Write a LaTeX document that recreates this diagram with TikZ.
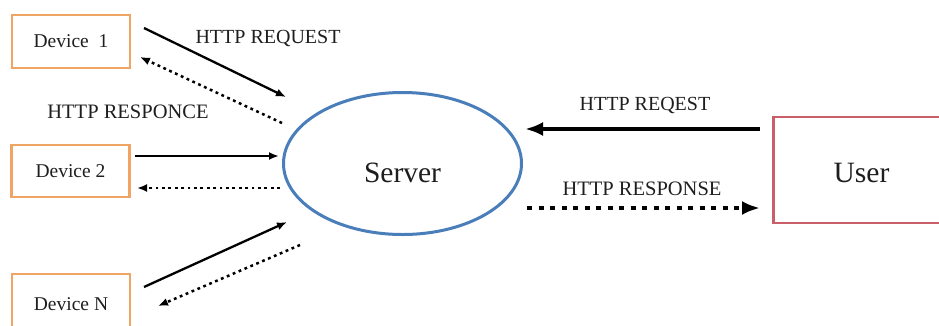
\documentclass[tikz,border=0pt]{standalone}
\usepackage{fontspec}
\setmainfont{Liberation Serif}
\usetikzlibrary{arrows.meta,calc,shapes.geometric}
\definecolor{devorange}{RGB}{240,165,100}
\definecolor{srvblue}{RGB}{74,126,187}
\definecolor{usrred}{RGB}{200,95,105}
\definecolor{txt}{RGB}{30,30,30}
\begin{document}
\begin{tikzpicture}[x=1pt,y=-1pt,
  devbox/.style={draw=devorange,line width=2.5pt,rectangle,inner sep=0pt,
    minimum width=118pt,minimum height=53pt,text=txt,
    font=\fontsize{19.5}{22}\selectfont},
  lbl/.style={text=txt,inner sep=0pt,font=\fontsize{20}{22}\selectfont},
  req/.style={line width=2.3pt,-{Latex[length=10pt,width=8pt]}},
  res/.style={line width=2.5pt,dash pattern=on 2.8pt off 3.6pt,-{Latex[length=10pt,width=8pt]}},
  ureq/.style={line width=4.5pt,-{Latex[length=18pt,width=14pt]}},
  ures/.style={line width=4.5pt,dash pattern=on 5pt off 6.5pt,-{Latex[length=18pt,width=14pt]}}
]
\useasboundingbox (0,0) rectangle (939,325);
\fill[white] (0,0) rectangle (939,325);
% nodes
\node[devbox] (d1) at (71,41.5) {Device\ \ 1};
\node[devbox,minimum height=52pt] (d2) at (70.5,171) {Device 2};
\node[devbox,minimum height=56pt,text height=16pt,text depth=0pt] (dn) at (71,302) {Device N};
\node[draw=srvblue,line width=3pt,ellipse,inner sep=0pt,minimum width=238pt,
  minimum height=142pt,text=txt,text height=37pt,text depth=0pt,
  font=\fontsize{29.5}{32}\selectfont] (srv) at (402.5,163.5) {Server};
\node[draw=usrred,line width=2.5pt,rectangle,inner sep=0pt,minimum width=176pt,
  minimum height=106pt,text=txt,text height=24pt,text depth=0pt,
  font=\fontsize{29.5}{32}\selectfont] (usr) at (861.5,170) {User};
% labels
\node[lbl] (l1) at (268,38) {HTTP REQUEST};
\node[lbl,font=\fontsize{20.5}{22}\selectfont] (l2) at (128,112) {HTTP RESPONCE};
\node[lbl] (l3) at (645,105) {HTTP REQEST};
\node[lbl,font=\fontsize{20.5}{22}\selectfont] (l4) at (642,189) {HTTP RESPONSE};
% connectors
\draw[req] ($(d1.center)+(73,-13.5)$) -- ($(srv.center)+(-116.5,-66.5)$);
\draw[res] ($(srv.center)+(-120.5,-40.5)$) -- ($(d1.center)+(69,15.5)$);
\draw[req] ($(d2.center)+(64.5,-15)$) -- ($(srv.center)+(-123.5,-7.5)$);
\draw[res] ($(srv.center)+(-122.5,24.5)$) -- ($(d2.center)+(66.5,17)$);
\draw[req] ($(dn.center)+(73,-15)$) -- ($(srv.center)+(-115.5,58.5)$);
\draw[res] ($(srv.center)+(-102.5,81.5)$) -- ($(dn.center)+(87,4)$);
\draw[ureq] ($(usr.center)+(-101.5,-41)$) -- ($(srv.center)+(122.5,-34.5)$);
\draw[ures] ($(srv.center)+(124.5,44.5)$) -- ($(usr.center)+(-101.5,38)$);
\end{tikzpicture}
\end{document}
